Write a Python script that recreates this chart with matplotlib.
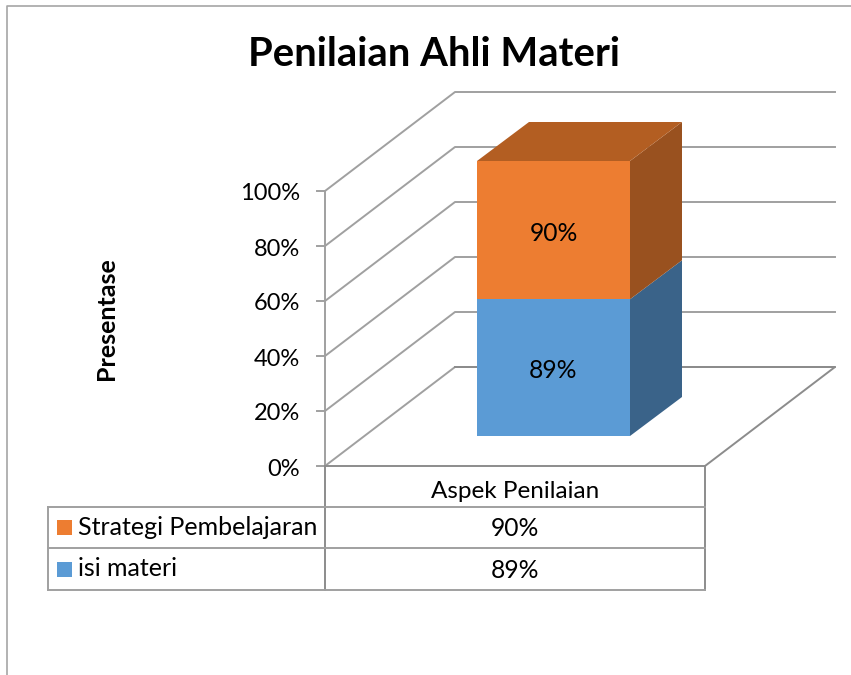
import matplotlib
matplotlib.use('Agg')
import matplotlib.pyplot as plt
import matplotlib.patches as patches

# --- DATA ---
CATEGORY = 'Aspek Penilaian'
SERIES = ['isi materi', 'Strategi Pembelajaran']
VALUES = [89, 90]
TICKS = [0, 20, 40, 60, 80, 100]

# --- STYLE ---
plt.rcParams['font.family'] = ['Lato', 'DejaVu Sans']
FRONT = ['#5B9BD5', '#ED7D31']
SIDE = ['#3A6389', '#99511F']
TOP_FACE = '#B35E22'
GRID = '#A0A0A0'
DARK_LINE = '#8C8C8C'

# chart geometry in image pixels
X0, Y0 = 325, 466          # front left corner of the floor
PX_PER_PCT = 2.75
DX, DY = 130, -99          # floor depth
WIDTH = 380
BAR_L, BAR_R = 477, 630    # front face of the bar
BAR_DROP = 30              # front face starts above the floor's front edge
BAR_DX, BAR_DY = 52, -39


def wall_y(pct):
    return Y0 - pct * PX_PER_PCT


def bar_y(pct):
    return Y0 - BAR_DROP - pct * PX_PER_PCT


fig = plt.figure(figsize=(8.51, 6.75), dpi=100)
ax = fig.add_axes([0, 0, 1, 1])
ax.set_xlim(0, 851)
ax.set_ylim(675, 0)
ax.axis('off')

# outer frame, only top and left are visible
ax.plot([851, 7, 7], [6, 6, 675], color='#A6A6A6', lw=1.2)

# walls and floor
for t in TICKS:
    y = wall_y(t)
    ax.plot([X0, X0 + DX, X0 + DX + WIDTH], [y, y + DY, y + DY], color=GRID, lw=1.4, zorder=1)
    ax.plot([X0 - 8, X0], [y, y], color=GRID, lw=1.4, zorder=1)
    ax.text(X0 - 25, y + 3, f'{t}%', ha='right', va='center', fontsize=17, color='black')
ax.plot([X0, X0], [wall_y(0), wall_y(100)], color=GRID, lw=1.4, zorder=1)
ax.plot([X0, X0 + WIDTH, X0 + WIDTH + DX, X0 + DX],
        [Y0, Y0, Y0 + DY, Y0 + DY], color=DARK_LINE, lw=1.4, zorder=1)

# 100% stacked bar with depth
total = sum(VALUES)
base = 0
for i, val in enumerate(VALUES):
    share = 100 * val / total
    y1, y2 = bar_y(base), bar_y(base + share)
    ax.add_patch(patches.Polygon([(BAR_L, y1), (BAR_R, y1), (BAR_R, y2), (BAR_L, y2)],
                                 facecolor=FRONT[i], edgecolor='none', zorder=3))
    ax.add_patch(patches.Polygon([(BAR_R, y1), (BAR_R + BAR_DX, y1 + BAR_DY),
                                  (BAR_R + BAR_DX, y2 + BAR_DY), (BAR_R, y2)],
                                 facecolor=SIDE[i], edgecolor='none', zorder=3))
    ax.text((BAR_L + BAR_R) / 2, (y1 + y2) / 2 + 3, f'{val}%', ha='center', va='center',
            fontsize=17.7, color='black', zorder=4)
    base += share
y_top = bar_y(100)
ax.add_patch(patches.Polygon([(BAR_L, y_top), (BAR_R, y_top),
                              (BAR_R + BAR_DX, y_top + BAR_DY), (BAR_L + BAR_DX, y_top + BAR_DY)],
                             facecolor=TOP_FACE, edgecolor='none', zorder=3))

# data table under the chart
TBL_L, TBL_M, TBL_R = 48, X0, X0 + WIDTH
ROWS = [Y0, 507, 548, 590]
ax.plot([TBL_M, TBL_M], [ROWS[0], ROWS[3]], color=DARK_LINE, lw=1.4, zorder=1)
ax.plot([TBL_R, TBL_R], [ROWS[0], ROWS[3]], color=DARK_LINE, lw=1.4, zorder=1)
ax.plot([TBL_L, TBL_L], [ROWS[1], ROWS[3]], color=GRID, lw=1.4, zorder=1)
for y in ROWS[1:]:
    ax.plot([TBL_L, TBL_R], [y, y], color=GRID, lw=1.4, zorder=1)

ax.text((TBL_M + TBL_R) / 2, 491.5, CATEGORY, ha='center', va='center', fontsize=17.5)
for row, i in enumerate([1, 0]):
    top, bottom = ROWS[row + 1], ROWS[row + 2]
    mid = (top + bottom) / 2
    ax.add_patch(patches.Rectangle((57, mid - 7.5), 15, 15, facecolor=FRONT[i], edgecolor='none'))
    ax.text(78, mid, SERIES[i], ha='left', va='center', fontsize=18)
    ax.text((TBL_M + TBL_R) / 2, mid + 1, f'{VALUES[i]}%', ha='center', va='center', fontsize=17.7)

ax.text(434, 55, 'Penilaian Ahli Materi', ha='center', va='center', fontsize=28.8, fontweight='bold')
ax.text(107, 319, 'Presentase', ha='center', va='center', rotation=90, fontsize=18, fontweight='bold')

plt.savefig('out.png', dpi=100)
plt.close()
